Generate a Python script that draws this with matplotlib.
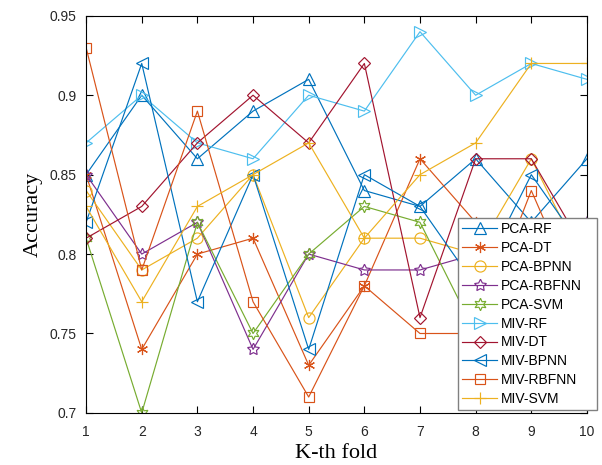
import matplotlib
matplotlib.use("Agg")
import matplotlib.pyplot as plt
from matplotlib.ticker import FuncFormatter

folds = [1, 2, 3, 4, 5, 6, 7, 8, 9, 10]

pca_rf = [0.85, 0.90, 0.86, 0.89, 0.91, 0.84, 0.83, 0.86, 0.82, 0.86]
pca_dt = [0.85, 0.74, 0.80, 0.81, 0.73, 0.78, 0.86, 0.82, 0.80, 0.79]
pca_bpnn = [0.84, 0.79, 0.81, 0.85, 0.76, 0.81, 0.81, 0.80, 0.86, 0.79]
pca_rbfnn = [0.85, 0.80, 0.82, 0.74, 0.80, 0.79, 0.79, 0.80, 0.81, 0.82]
pca_svm = [0.81, 0.70, 0.82, 0.75, 0.80, 0.83, 0.82, 0.75, 0.76, 0.78]
miv_rf = [0.87, 0.90, 0.87, 0.86, 0.90, 0.89, 0.94, 0.90, 0.92, 0.91]
miv_dt = [0.81, 0.83, 0.87, 0.90, 0.87, 0.92, 0.76, 0.86, 0.86, 0.80]
miv_bpnn = [0.82, 0.92, 0.77, 0.85, 0.74, 0.85, 0.83, 0.78, 0.85, 0.80]
miv_rbfnn = [0.93, 0.79, 0.89, 0.77, 0.71, 0.78, 0.75, 0.75, 0.84, 0.76]
miv_svm = [0.83, 0.77, 0.83, 0.85, 0.87, 0.81, 0.85, 0.87, 0.92, 0.92]

labels = ["PCA-RF", "PCA-DT", "PCA-BPNN", "PCA-RBFNN", "PCA-SVM",
          "MIV-RF", "MIV-DT", "MIV-BPNN", "MIV-RBFNN", "MIV-SVM"]
series = [pca_rf, pca_dt, pca_bpnn, pca_rbfnn, pca_svm,
          miv_rf, miv_dt, miv_bpnn, miv_rbfnn, miv_svm]

# matlab default color order
colors = ["#0072BD", "#D95319", "#EDB120", "#7E2F8E", "#77AC30",
          "#4DBEEE", "#A2142F", "#0072BD", "#D95319", "#EDB120"]
markers = ["^", (6, 2, 0), "o", (5, 1, 0), (6, 1, 0),
           ">", "D", "<", "s", "+"]
sizes = [8, 8, 8, 9, 9, 8, 6, 8, 6.5, 8]

fig = plt.figure(figsize=(6.02, 4.65), dpi=100)
ax = fig.add_axes([0.143, 0.112, 0.832, 0.854])

for y, lab, c, m, s in zip(series, labels, colors, markers, sizes):
    ax.plot(folds, y, color=c, marker=m, markersize=s, markerfacecolor="none",
            markeredgecolor=c, markeredgewidth=0.85, linewidth=0.85, label=lab)

ax.set_xlim(1, 10)
ax.set_ylim(0.7, 0.95)
ax.set_xticks(folds)
ax.set_yticks([0.7, 0.75, 0.8, 0.85, 0.9, 0.95])
ax.yaxis.set_major_formatter(FuncFormatter(lambda v, p: "%g" % round(v, 2)))
ax.tick_params(axis="x", pad=9)
ax.tick_params(direction="in", top=True, right=True, length=5, width=0.8,
               labelsize=10, labelcolor="#262626")
ax.tick_params(axis="y", pad=7)
for lbl in ax.get_xticklabels() + ax.get_yticklabels():
    lbl.set_fontfamily("Liberation Sans")
for sp in ax.spines.values():
    sp.set_linewidth(0.8)

ax.set_xlabel("K-th fold", fontfamily="Liberation Serif", fontsize=16, labelpad=3)
ax.set_ylabel("Accuracy", fontfamily="Liberation Serif", fontsize=16, labelpad=5)

leg = ax.legend(loc="lower left", bbox_to_anchor=(0.761, 0.118, 0.231, 0.413),
                bbox_transform=fig.transFigure, borderaxespad=0, mode="expand",
                prop={"family": "Liberation Sans", "size": 10},
                handlelength=2.5, labelspacing=0.35, fancybox=False,
                framealpha=1, edgecolor="#808080", borderpad=0.3,
                handletextpad=0.3)
leg.get_frame().set_linewidth(1.0)

fig.savefig("out.png", dpi=100)
